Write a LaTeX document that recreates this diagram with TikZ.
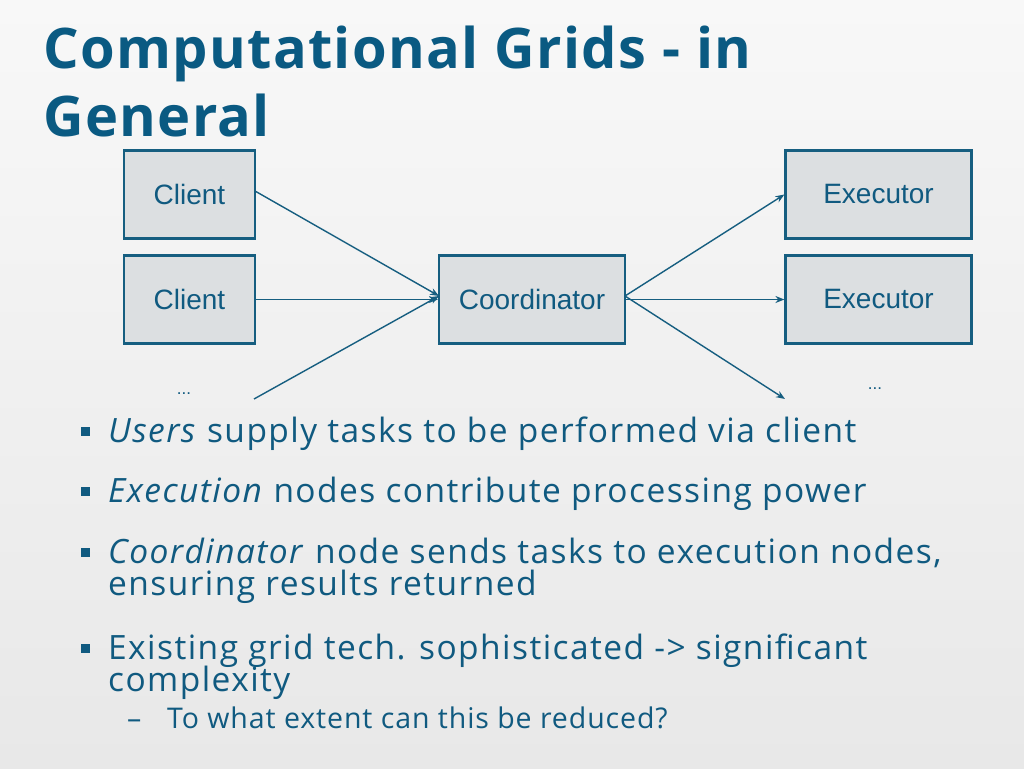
\documentclass[tikz,border=0pt]{standalone}
\usepackage{fontspec}
\setmainfont{Open Sans}
\newfontfamily\bodyfont[LetterSpace=4.3]{Open Sans}
\newfontfamily\subfont[LetterSpace=3.2]{Open Sans}
\newfontfamily\titlefont[LetterSpace=2.4]{Open Sans}
\newfontfamily\boxfont{Liberation Sans}
\usetikzlibrary{arrows.meta}
\definecolor{titlecol}{RGB}{10,90,130}
\definecolor{textcol}{RGB}{16,90,128}
\definecolor{boxfill}{RGB}{220,223,225}
\definecolor{boxline}{RGB}{22,94,128}
\definecolor{bgtop}{RGB}{248,248,248}
\definecolor{bgbot}{RGB}{232,232,232}
\tikzset{
  gridbox/.style={draw=boxline, line width=2.2pt, fill=boxfill, minimum width=#1, minimum height=88pt, inner sep=0pt,
    font=\boxfont\fontsize{28}{32}\selectfont, text=textcol},
  gridbox/.default=131pt,
  link/.style={draw=boxline, line width=1.4pt, -{Stealth[length=9pt,width=7pt]}},
  bodytext/.style={anchor=base west, inner sep=0pt, text=textcol, font=\bodyfont\fontsize{33.5}{34}\selectfont},
  subtext/.style={anchor=base west, inner sep=0pt, text=textcol, font=\subfont\fontsize{28.5}{29}\selectfont},
  titletext/.style={anchor=base west, inner sep=0pt, text=titlecol, font=\titlefont\bfseries\fontsize{56}{68}\selectfont, align=left},
  bulletsq/.style={fill=textcol, minimum size=9pt, inner sep=0pt},
  dots/.style={text=textcol, font=\boxfont\fontsize{17}{17}\selectfont, inner sep=0pt}
}
\begin{document}
\begin{tikzpicture}[x=1pt,y=-1pt]
\useasboundingbox (0,0) rectangle (1024,768);
\shade[top color=bgtop, bottom color=bgbot] (0,0) rectangle (1024,768);

% title
\node[titletext] (t1) at (43,68) {Computational Grids - in};
\node[titletext] (t2) at (43,136) {General};

% boxes
\node[gridbox] (c1) at (189.5,194.5) {Client};
\node[gridbox] (c2) at (189.5,299.5) {Client};
\node[gridbox=186pt] (co) at (532,299.5) {Coordinator};
\node[gridbox=186pt] (e1) at (878.5,194.5) {Executor};
\node[gridbox=186pt] (e2) at (878.5,299.5) {Executor};

\node[dots] (d1) at (184,394) {...};
\node[dots] (d2) at (875,389) {...};

\coordinate (cin) at (439,296);
\coordinate (cout) at (625,296);
\coordinate (c1out) at (255,191);
\coordinate (c3out) at (254,399);
\coordinate (e3in) at (785,399);

\draw[link] (c1out) -- (cin);
\draw[link] (c2.east) -- (co.west);
\draw[link] (c3out) -- (cin);
\draw[link] (cout) -- (e1.west);
\draw[link] (co.east) -- (e2.west);
\draw[link] (cout) -- (e3in);

% bullets
\node[bulletsq] (b1) at (85,431) {};
\node[bodytext] (l1) at (108,442) {\textit{Users} supply tasks to be performed via client};
\node[bulletsq] (b2) at (85,491) {};
\node[bodytext] (l2) at (108,502) {\textit{Execution} nodes contribute processing power};
\node[bulletsq] (b3) at (85,552) {};
\node[bodytext] (l3) at (108,563) {\textit{Coordinator} node sends tasks to execution nodes,};
\node[bodytext] (l3b) at (108,595) {ensuring results returned};
\node[bulletsq] (b4) at (85,648) {};
\node[bodytext] (l4) at (108,659) {Existing grid tech. sophisticated -> significant};
\node[bodytext] (l4b) at (108,691) {complexity};
\node[subtext] (s1a) at (127,728) {–};
\node[subtext] (s1) at (167,728) {To what extent can this be reduced?};
\end{tikzpicture}
\end{document}
